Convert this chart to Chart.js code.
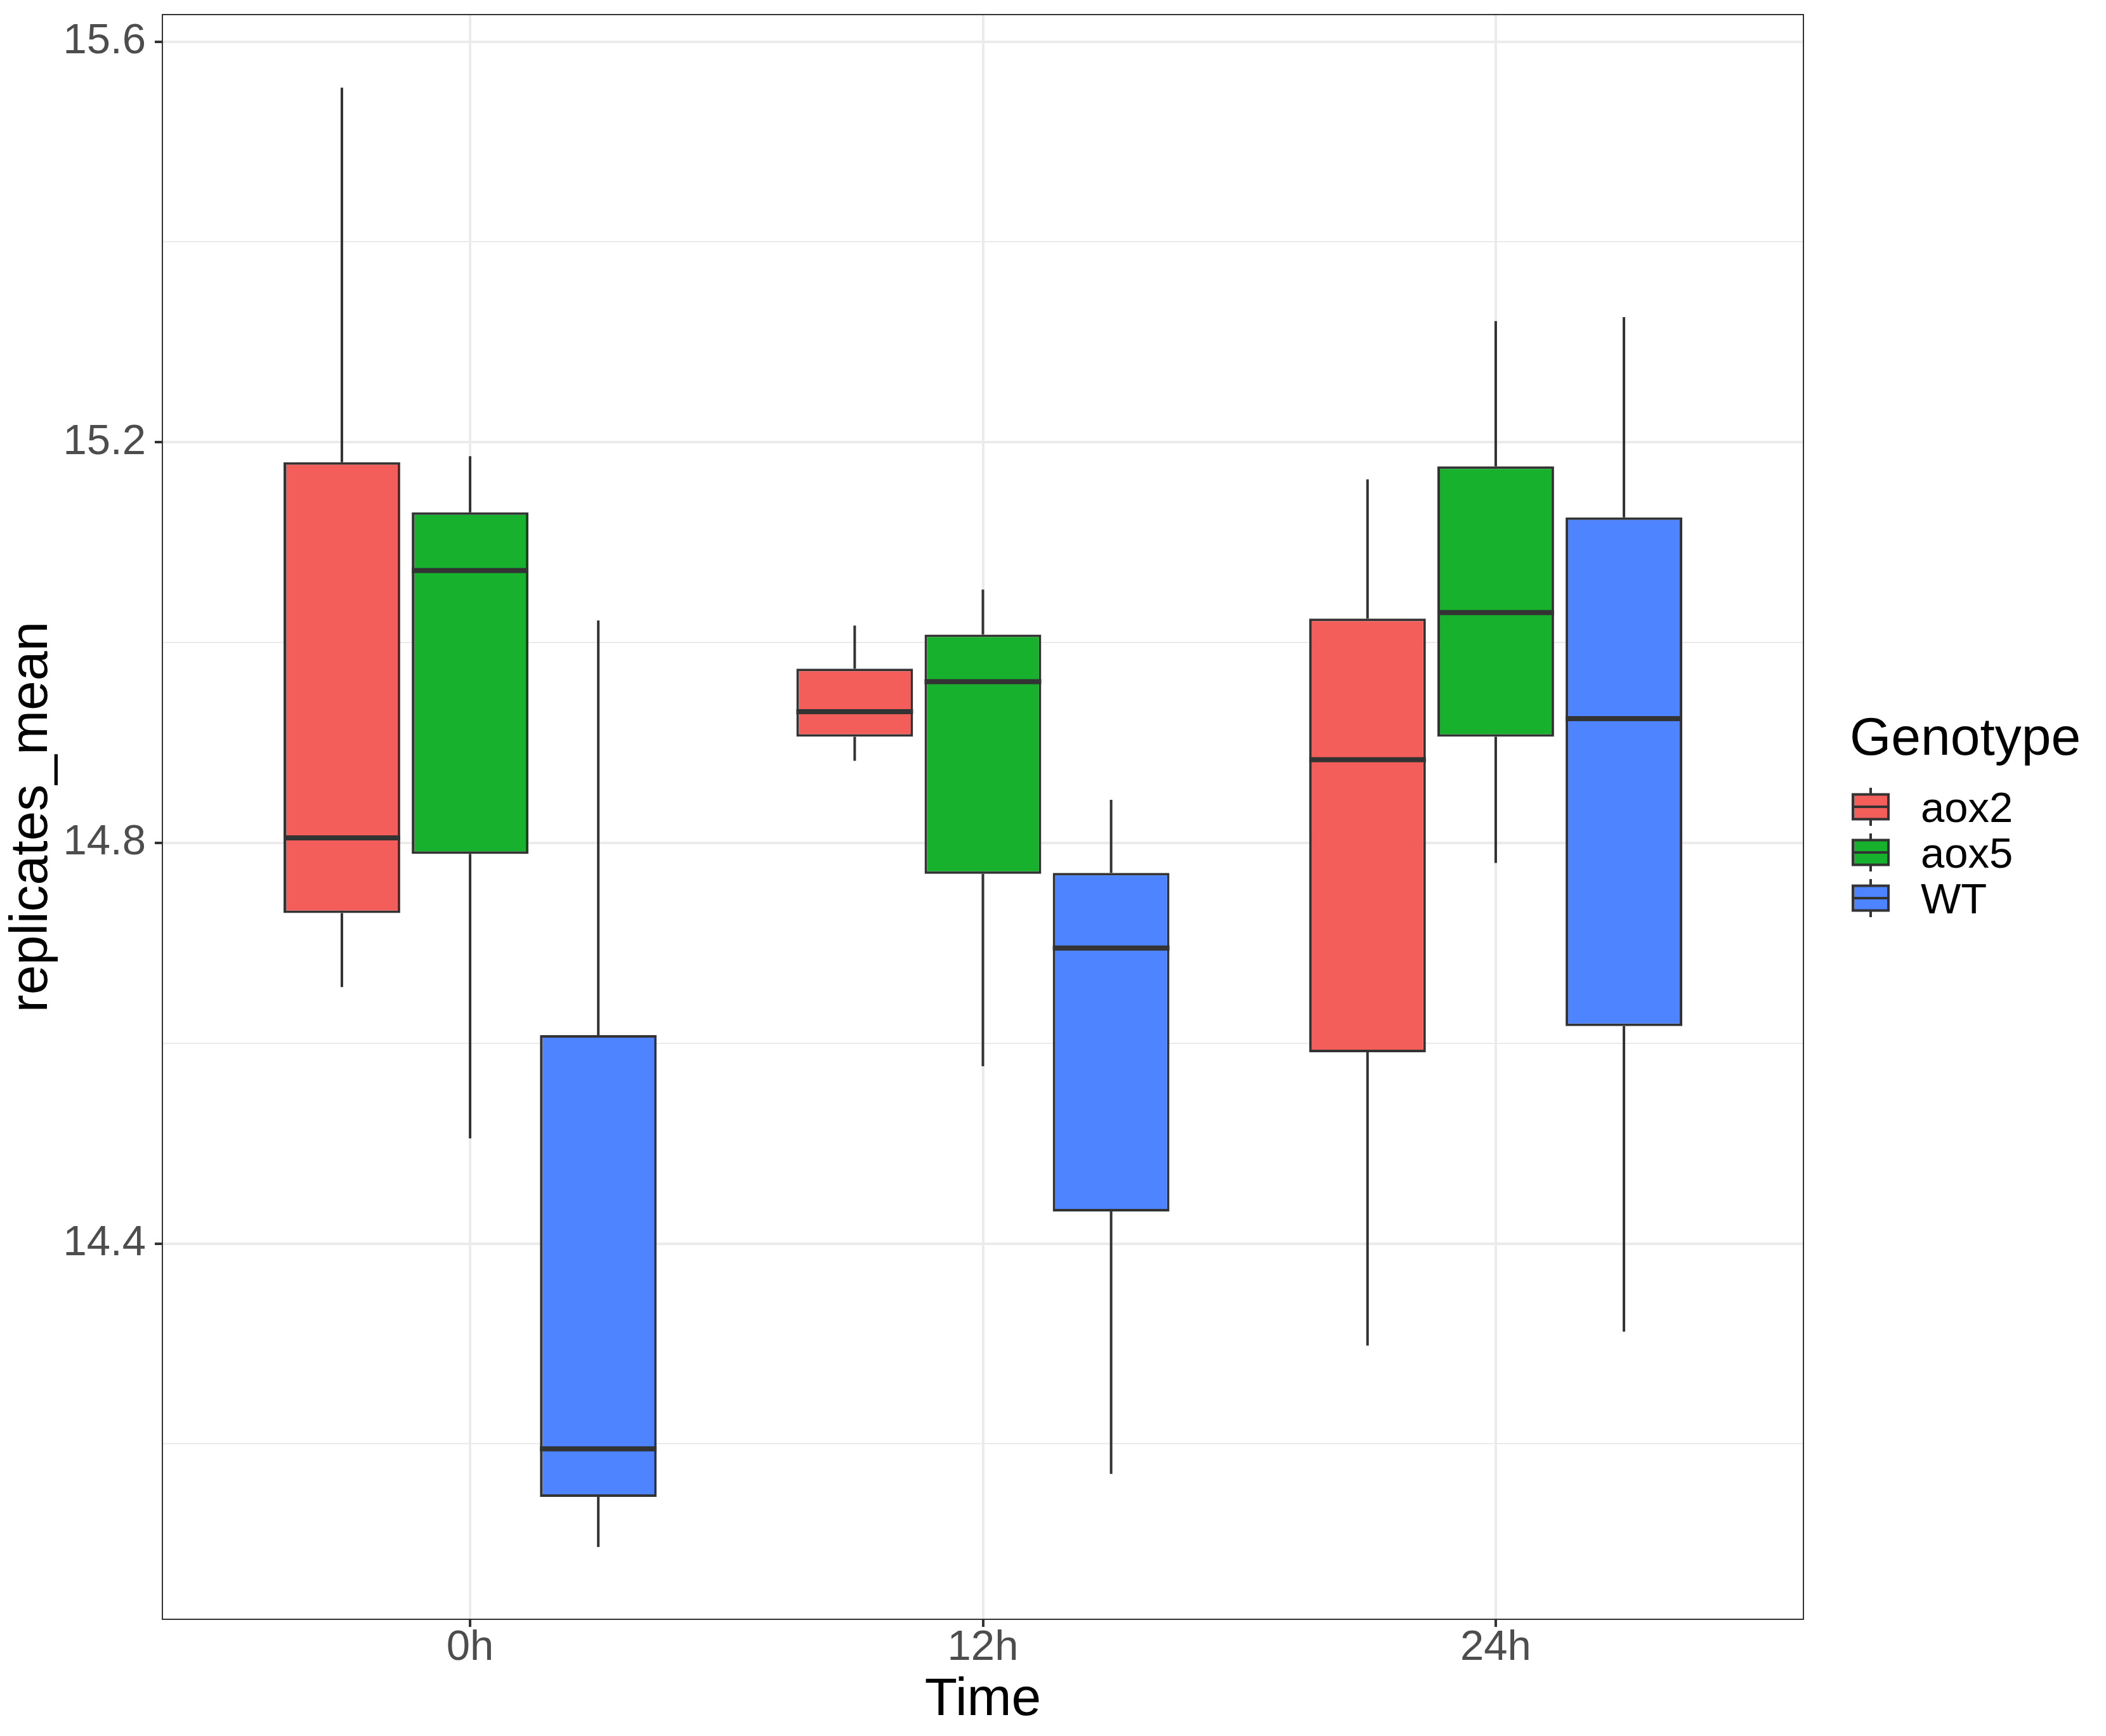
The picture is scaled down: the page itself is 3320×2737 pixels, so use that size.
<!DOCTYPE html>
<html>
<head>
<meta charset="utf-8">
<script src="https://cdn.jsdelivr.net/npm/chart.js@4.4.1/dist/chart.umd.min.js"></script>
<style>
  html, body { margin: 0; padding: 0; background: #ffffff; }
  #boxChart { display: block; }
</style>
</head>
<body>
<canvas id="boxChart" width="3320" height="2737"></canvas>
<script>
// categories
const timeLabels = ['0h', '12h', '24h'];
const genotypes = ['aox2', 'aox5', 'WT'];
const fillColors = ['#F35E5A', '#18B12D', '#4E84FF'];

// box stats, one row per genotype, one value per time point
const whiskerLow    = [[14.656, 14.882, 14.298], [14.505, 14.577, 14.780], [14.097, 14.170, 14.312]];
const lowerQuartile = [[14.730, 14.906, 14.591], [14.789, 14.769, 14.906], [14.147, 14.432, 14.617]];
const medians       = [[14.805, 14.931, 14.883], [15.072, 14.961, 15.030], [14.195, 14.695, 14.924]];
const upperQuartile = [[15.180, 14.974, 15.024], [15.130, 15.008, 15.176], [14.608, 14.770, 15.125]];
const whiskerHigh   = [[15.554, 15.017, 15.163], [15.186, 15.053, 15.321], [15.022, 14.843, 15.325]];

// y tick labels shown (minor lines in between)
const yTickLabels = [14.4, 14.8, 15.2, 15.6];

const lineColor = '#333333';
const gridColor = '#EBEBEB';
const fontFamily = "'Liberation Sans', Arial, sans-serif";

function isMajor(v){
    return yTickLabels.some(t => Math.abs(t - v) < 1e-6);
}

// whiskers + medians on top of the floating bars
const whiskerPlugin = {
    id: 'whiskers',
    afterDatasetsDraw(chart){
        const ctx = chart.ctx;
        const y = chart.scales.y;
        ctx.save();
        ctx.strokeStyle = lineColor;
        ctx.lineCap = 'butt';
        chart.data.datasets.forEach((ds, g) => {
            const meta = chart.getDatasetMeta(g);
            meta.data.forEach((bar, i) => {
                const x = bar.x;
                const half = bar.width / 2;
                ctx.lineWidth = 4;
                ctx.beginPath();
                ctx.moveTo(x, y.getPixelForValue(upperQuartile[g][i]));
                ctx.lineTo(x, y.getPixelForValue(whiskerHigh[g][i]));
                ctx.moveTo(x, y.getPixelForValue(lowerQuartile[g][i]));
                ctx.lineTo(x, y.getPixelForValue(whiskerLow[g][i]));
                ctx.stroke();
                ctx.lineWidth = 8;
                const my = y.getPixelForValue(medians[g][i]);
                ctx.beginPath();
                ctx.moveTo(x - half, my);
                ctx.lineTo(x + half, my);
                ctx.stroke();
            });
        });
        ctx.restore();
    },
    afterDraw(chart){
        const ctx = chart.ctx;
        const a = chart.chartArea;
        ctx.save();
        // panel border
        ctx.strokeStyle = lineColor;
        ctx.lineWidth = 2;
        ctx.strokeRect(a.left, a.top, a.right - a.left, a.bottom - a.top);

        // legend (boxplot style keys)
        ctx.fillStyle = '#000000';
        ctx.font = '84px ' + fontFamily;
        ctx.textAlign = 'left';
        ctx.textBaseline = 'alphabetic';
        ctx.fillText('Genotype', 2916, 1190);
        ctx.font = '67px ' + fontFamily;
        genotypes.forEach((name, i) => {
            const cy = 1272 + 72 * i;
            const cx = 2949;
            ctx.strokeStyle = lineColor;
            ctx.lineWidth = 4;
            ctx.beginPath();
            ctx.moveTo(cx, cy - 30); ctx.lineTo(cx, cy - 19.5);
            ctx.moveTo(cx, cy + 19.5); ctx.lineTo(cx, cy + 30);
            ctx.stroke();
            ctx.fillStyle = fillColors[i];
            ctx.fillRect(cx - 28, cy - 19.5, 56, 39);
            ctx.strokeRect(cx - 28, cy - 19.5, 56, 39);
            ctx.beginPath();
            ctx.moveTo(cx - 28, cy); ctx.lineTo(cx + 28, cy);
            ctx.stroke();
            ctx.fillStyle = '#000000';
            ctx.fillText(name, 3028, cy + 24);
        });
        ctx.restore();
    }
};

Chart.defaults.font.family = fontFamily;

const datasets = genotypes.map((name, g) => ({
    label: name,
    data: timeLabels.map((t, i) => ({ x: i + 1, y: [lowerQuartile[g][i], upperQuartile[g][i]] })),
    backgroundColor: fillColors[g],
    borderColor: lineColor,
    borderWidth: 4,
    borderSkipped: false,
    categoryPercentage: 0.75,
    barPercentage: 0.91
}));

new Chart(document.getElementById('boxChart').getContext('2d'), {
    type: 'bar',
    data: { datasets: datasets },
    plugins: [whiskerPlugin],
    options: {
        responsive: false,
        animation: false,
        devicePixelRatio: 1,
        layout: { padding: { top: 23, right: 477, left: 0, bottom: 0 } },
        plugins: { legend: { display: false }, tooltip: { enabled: false } },
        scales: {
            x: {
                type: 'linear',
                min: 0.4,
                max: 3.6,
                offset: false,
                afterFit: s => { s.height = 184; },
                border: { display: false },
                grid: {
                    offset: false,
                    color: gridColor,
                    lineWidth: 4,
                    tickColor: lineColor,
                    tickWidth: 4,
                    tickLength: 12
                },
                ticks: {
                    stepSize: 1,
                    includeBounds: false,
                    color: '#4D4D4D',
                    padding: 0,
                    font: { size: 67, lineHeight: 1 },
                    callback: v => timeLabels[v - 1]
                },
                title: {
                    display: true,
                    text: 'Time',
                    color: '#000000',
                    font: { size: 84 },
                    padding: { top: 0, bottom: 6 }
                }
            },
            y: {
                min: 14.0248,
                max: 15.627,
                afterFit: s => { s.width = 256; },
                border: { display: false },
                grid: {
                    color: gridColor,
                    lineWidth: c => isMajor(c.tick.value) ? 4 : 2,
                    tickColor: c => isMajor(c.tick.value) ? lineColor : 'rgba(0,0,0,0)',
                    tickWidth: 4,
                    tickLength: 12
                },
                ticks: {
                    stepSize: 0.2,
                    includeBounds: false,
                    color: '#4D4D4D',
                    padding: 14,
                    font: { size: 67, lineHeight: 0.1 },
                    callback: v => isMajor(v) ? v.toFixed(1) : ''
                },
                title: {
                    display: true,
                    text: 'replicates_mean',
                    color: '#000000',
                    font: { size: 84 },
                    padding: { top: 0, bottom: 0 }
                }
            }
        }
    }
});
</script>
</body>
</html>
